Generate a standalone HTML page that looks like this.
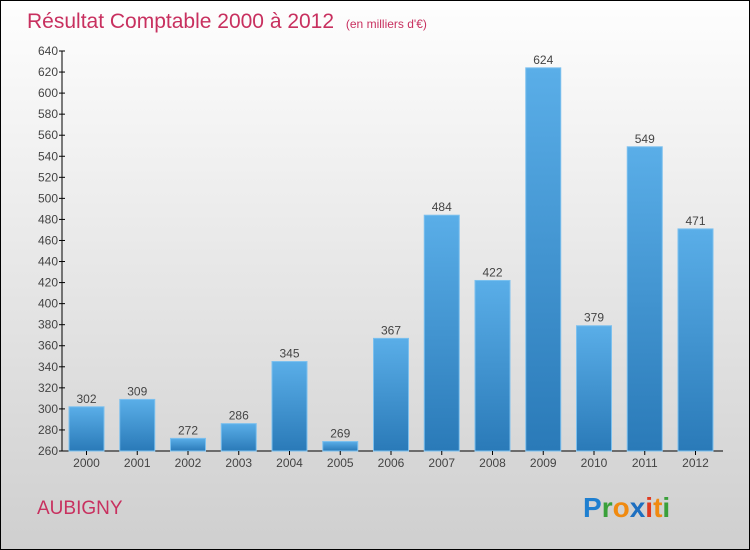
<!DOCTYPE html>
<html><head><meta charset="utf-8"><style>
body{margin:0;}
#wrap{width:748px;height:548px;border:1px solid #000;background:linear-gradient(#fefefe,#cfcfcf);position:relative;overflow:hidden;font-family:"Liberation Sans",sans-serif;}
</style></head><body>
<div id="wrap">
<svg id="chart" width="748" height="548">
<defs><linearGradient id="bg" x1="0" y1="0" x2="0" y2="1"><stop offset="0" stop-color="#5aaee8"/><stop offset="1" stop-color="#2a7ab8"/></linearGradient></defs>
<text x="26" y="27" font-size="21" fill="#c8305f">Résultat Comptable 2000 à 2012 <tspan font-size="12" dx="6">(en milliers d'€)</tspan></text>
<text x="36" y="513" font-size="19" fill="#c8305f">AUBIGNY</text>
<g font-size="28" font-weight="bold" font-family="Liberation Sans,sans-serif">
<text x="582" y="516"><tspan fill="#1e7fd0">P</tspan><tspan fill="#3aa03a">r</tspan><tspan fill="#f08a10">o</tspan><tspan fill="#1e6fc0">x</tspan><tspan fill="#e03a20">i</tspan><tspan fill="#f08a10">t</tspan><tspan fill="#3aa03a">i</tspan></text></g>
<g id="plot"></g>
</svg></div>
<script>
const years=["2000","2001","2002","2003","2004","2005","2006","2007","2008","2009","2010","2011","2012"];
const values=[302,309,272,286,345,269,367,484,422,624,379,549,471];
const yTicks=[260,280,300,320,340,360,380,400,420,440,460,480,500,520,540,560,580,600,620,640];
const yMin=260,yMax=640,plotTop=50,plotBot=450,axisX=61;
const y=v=>plotBot-(v-yMin)/(yMax-yMin)*(plotBot-plotTop);
const xc=i=>85.5+i*50.75;
const NS="http://www.w3.org/2000/svg",g=document.getElementById('plot');
function mk(t,a,txt){const e=document.createElementNS(NS,t);for(const k in a)e.setAttribute(k,a[k]);if(txt!=null)e.textContent=txt;g.appendChild(e);return e;}
let e=mk('line',{x1:axisX,y1:plotTop,x2:axisX,y2:plotBot,stroke:'#000'});


e=mk('line',{x1:axisX,y1:plotBot,x2:722,y2:plotBot,stroke:'#000'});


yTicks.forEach(v=>{
 e=mk('line',{x1:axisX-3,y1:y(v),x2:axisX+3,y2:y(v),stroke:'#000'});
 
 
 e=mk('text',{x:axisX-4,y:y(v)+4,'font-size':12,'text-anchor':'end',fill:'#444'},v);
 
 
});
values.forEach((v,i)=>{
 e=mk('rect',{x:xc(i)-17.5,y:y(v),width:35,height:plotBot-y(v),fill:'url(#bg)',stroke:'#7cc0ee','stroke-width':1});
 
 
 e=mk('text',{x:xc(i),y:y(v)-4,'font-size':12,'text-anchor':'middle',fill:'#444'},v);
 
 
 e=mk('line',{x1:xc(i),y1:plotBot,x2:xc(i),y2:plotBot+4,stroke:'#000'});
 
 
 e=mk('text',{x:xc(i),y:plotBot+16,'font-size':12,'text-anchor':'middle',fill:'#444'},years[i]);
 
 
});
</script>
</body></html>
